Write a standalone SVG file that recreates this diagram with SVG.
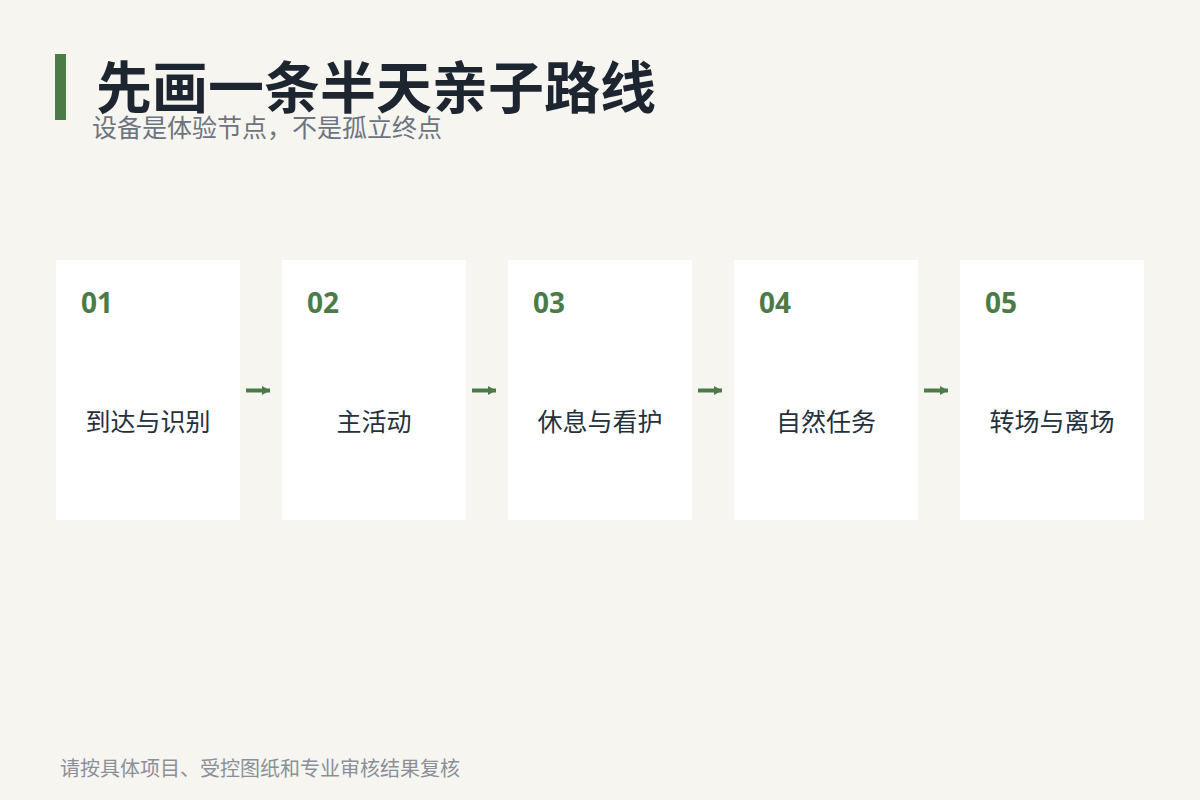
<svg xmlns="http://www.w3.org/2000/svg" width="1200" height="800" viewBox="0 0 1200 800">
<defs>
<style>
.cjk{font-family:"Noto Sans CJK SC","Noto Sans",sans-serif;}
.card{fill:#ffffff;}
.num{font-family:"Noto Sans","Open Sans",sans-serif;font-weight:700;font-size:28px;fill:#4b7b47;}
.label{font-size:25px;fill:#24313d;text-anchor:middle;}
.conn{stroke:#4b7b47;stroke-width:4;fill:none;}
</style>
<marker id="ah" markerUnits="userSpaceOnUse" markerWidth="9" markerHeight="10" refX="8" refY="5" orient="auto">
<path d="M0,0.5 L8,5 L0,9.5 Z" fill="#4b7b47"/>
</marker>
</defs>
<rect x="0" y="0" width="1200" height="800" fill="#f6f5f0"/>
<g id="header">
<rect x="55" y="54" width="11" height="66" fill="#4b7b47"/>
<text class="cjk" x="96" y="108" font-size="56" font-weight="700" fill="#1c2530">先画一条半天亲子路线</text>
<text class="cjk" x="92" y="137" font-size="25" fill="#6b7480">设备是体验节点，不是孤立终点</text>
</g>
<g id="node1">
<rect class="card" x="56" y="260" width="184" height="260"/>
<text class="num" x="81" y="313">01</text>
<text class="cjk label" x="148" y="431">到达与识别</text>
</g>
<g id="node2">
<rect class="card" x="282" y="260" width="184" height="260"/>
<text class="num" x="307" y="313">02</text>
<text class="cjk label" x="374" y="431">主活动</text>
</g>
<g id="node3">
<rect class="card" x="508" y="260" width="184" height="260"/>
<text class="num" x="533" y="313">03</text>
<text class="cjk label" x="600" y="431">休息与看护</text>
</g>
<g id="node4">
<rect class="card" x="734" y="260" width="184" height="260"/>
<text class="num" x="759" y="313">04</text>
<text class="cjk label" x="826" y="431">自然任务</text>
</g>
<g id="node5">
<rect class="card" x="960" y="260" width="184" height="260"/>
<text class="num" x="985" y="313">05</text>
<text class="cjk label" x="1052" y="431">转场与离场</text>
</g>
<g id="connectors">
<line class="conn" x1="246" y1="390.5" x2="270" y2="390.5" marker-end="url(#ah)"/>
<line class="conn" x1="472" y1="390.5" x2="496" y2="390.5" marker-end="url(#ah)"/>
<line class="conn" x1="698" y1="390.5" x2="722" y2="390.5" marker-end="url(#ah)"/>
<line class="conn" x1="924" y1="390.5" x2="948" y2="390.5" marker-end="url(#ah)"/>
</g>
<g id="footer">
<text class="cjk" x="60" y="776" font-size="20" fill="#8a9099">请按具体项目、受控图纸和专业审核结果复核</text>
</g>
</svg>
